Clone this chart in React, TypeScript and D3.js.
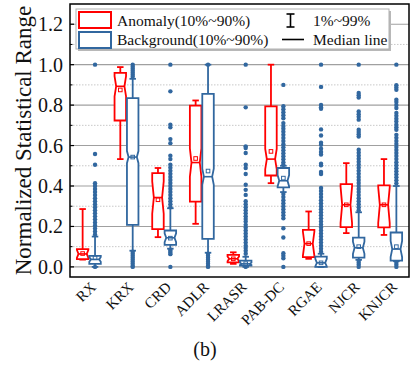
import React from "react";
import * as d3 from "d3";

const categories = ["RX", "KRX", "CRD", "ADLR", "LRASR", "PAB-DC", "RGAE", "NJCR", "KNJCR"];

// Anomaly (red) statistics: 1%, 10%, median, mean, 90%, 99%
const anomalyP01 = [0.036, 0.533, 0.147, 0.213, 0.015, 0.414, 0.04, 0.167, 0.158];
const anomalyP10 = [0.038, 0.724, 0.187, 0.323, 0.022, 0.452, 0.048, 0.197, 0.195];
const anomalyMedian = [0.064, 0.893, 0.343, 0.516, 0.04, 0.533, 0.115, 0.307, 0.307];
const anomalyMean = [0.066, 0.875, 0.332, 0.536, 0.04, 0.571, 0.115, 0.307, 0.307];
const anomalyP90 = [0.088, 0.959, 0.464, 0.797, 0.059, 0.794, 0.183, 0.409, 0.403];
const anomalyP99 = [0.286, 0.988, 0.489, 0.823, 0.072, 1.0, 0.274, 0.513, 0.533];
const anomalyNotch = [0.02, 0.05, 0.08, 0.07, 0.012, 0.05, 0.06, 0.09, 0.09];

// Background (blue) statistics
const backgroundP01 = [0.0, 0.08, 0.09, 0.07, 0.0, 0.37, 0.0, 0.035, 0.028];
const backgroundP10 = [0.015, 0.208, 0.109, 0.139, 0.006, 0.393, 0.0, 0.046, 0.031];
const backgroundMedian = [0.037, 0.543, 0.144, 0.446, 0.015, 0.426, 0.02, 0.095, 0.088];
const backgroundMean = [0.045, 0.543, 0.142, 0.474, 0.016, 0.439, 0.02, 0.1, 0.1];
const backgroundP90 = [0.054, 0.835, 0.18, 0.856, 0.031, 0.489, 0.051, 0.145, 0.17];
const backgroundP99 = [0.15, 0.93, 0.29, 1.0, 0.05, 0.5, 0.065, 0.27, 0.4];
const backgroundNotch = [0.012, 0.03, 0.022, 0.04, 0.006, 0.028, 0.02, 0.03, 0.04];

// Background outliers (values beyond 1%~99%)
const outRX = [1.0, 0.558, 0.505, 0.414, 0.4, 0.385, 0.37, 0.355, 0.34, 0.325, 0.31, 0.295, 0.28, 0.265, 0.25, 0.235, 0.22, 0.205, 0.19, 0.175, 0.16, 0.0];
const outKRX = [1.0, 0.99, 0.98, 0.97, 0.96, 0.95, 0.94, 0.075, 0.065, 0.055, 0.045, 0.035, 0.025, 0.015, 0.005, 0.0];
const outCRD = [1.0, 0.868, 0.703, 0.69, 0.632, 0.612, 0.55, 0.533, 0.505, 0.49, 0.475, 0.46, 0.445, 0.43, 0.415, 0.4, 0.385, 0.37, 0.355, 0.34, 0.325, 0.31, 0.295, 0.085, 0.078, 0.07, 0.063, 0.0];
const outADLR = [1.0, 0.065, 0.055, 0.045, 0.035, 0.025, 0.015, 0.005, 0.0];
const outLRASR = [1.0, 0.789, 0.596, 0.588, 0.563, 0.505, 0.489, 0.459, 0.406, 0.381, 0.356, 0.325, 0.31, 0.295, 0.28, 0.265, 0.25, 0.237, 0.224, 0.208, 0.195, 0.18, 0.165, 0.15, 0.135, 0.12, 0.105, 0.094, 0.08, 0.065, 0.0];
const outPABDC = [0.9, 0.794, 0.78, 0.765, 0.75, 0.735, 0.711, 0.697, 0.683, 0.668, 0.653, 0.637, 0.622, 0.607, 0.592, 0.577, 0.562, 0.547, 0.532, 0.517, 0.505, 0.36, 0.345, 0.33, 0.315, 0.3, 0.285, 0.27, 0.255, 0.24, 0.191, 0.145, 0.068, 0.055, 0.043, 0.0];
const outRGAE = [1.0, 0.89, 0.801, 0.79, 0.782, 0.68, 0.65, 0.614, 0.604, 0.584, 0.568, 0.556, 0.51, 0.502, 0.469, 0.459, 0.39, 0.375, 0.36, 0.345, 0.33, 0.315, 0.3, 0.285, 0.27, 0.255, 0.24, 0.225, 0.21, 0.195, 0.18, 0.165, 0.15, 0.135, 0.12, 0.105, 0.09, 0.075];
const outNJCR = [1.0, 0.86, 0.849, 0.838, 0.769, 0.755, 0.742, 0.728, 0.678, 0.667, 0.656, 0.645, 0.579, 0.565, 0.55, 0.535, 0.52, 0.505, 0.49, 0.475, 0.46, 0.445, 0.43, 0.415, 0.4, 0.385, 0.37, 0.355, 0.34, 0.325, 0.31, 0.295, 0.28, 0.03, 0.02, 0.01, 0.0];
const outKNJCR = [1.0, 0.898, 0.887, 0.876, 0.827, 0.815, 0.8, 0.786, 0.761, 0.747, 0.733, 0.719, 0.703, 0.69, 0.678, 0.653, 0.638, 0.623, 0.608, 0.593, 0.578, 0.563, 0.548, 0.533, 0.518, 0.503, 0.488, 0.473, 0.458, 0.443, 0.428, 0.413, 0.02, 0.01, 0.0];
const backgroundOutliers = [outRX, outKRX, outCRD, outADLR, outLRASR, outPABDC, outRGAE, outNJCR, outKNJCR];

const yMajorTicks = [0.0, 0.2, 0.4, 0.6, 0.8, 1.0, 1.2];
const yMinorTicks = [0.1, 0.3, 0.5, 0.7, 0.9, 1.1];

const RED = "#ff0000";
const BLUE = "#31679f";
const FONT = "'Liberation Serif', 'Times New Roman', serif";

const W = 410, H = 368;
const plotL = 70, plotR = 409, plotT = 4, plotB = 277;

export default function App() {
  const x = d3.scaleBand<string>().domain(categories).range([plotL, plotR]);
  const y = d3.scaleLinear().domain([-0.05, 1.3]).range([plotB, plotT]);
  const boxW = 11.5;
  const off = 6.2;
  const capW = 6.5;

  const drawBox = (
    key: string, cx: number, color: string,
    p01: number, p10: number, med: number, mean: number, p90: number, p99: number, notch: number,
    outliers: number[]
  ) => {
    const lo = Math.max(p10, med - Math.min(notch, 0.9 * (med - p10)));
    const hi = Math.min(p90, med + Math.min(notch, 0.9 * (p90 - med)));
    const hw = boxW / 2;
    const nw = hw * 0.72;
    const path = d3.path();
    path.moveTo(cx - hw, y(p10));
    path.lineTo(cx - hw, y(lo));
    path.lineTo(cx - nw, y(med));
    path.lineTo(cx - hw, y(hi));
    path.lineTo(cx - hw, y(p90));
    path.lineTo(cx + hw, y(p90));
    path.lineTo(cx + hw, y(hi));
    path.lineTo(cx + nw, y(med));
    path.lineTo(cx + hw, y(lo));
    path.lineTo(cx + hw, y(p10));
    path.closePath();
    return (
      <g key={key}>
        <line x1={cx} x2={cx} y1={y(p90)} y2={y(p99)} stroke={color} strokeWidth={1.8} />
        <line x1={cx} x2={cx} y1={y(p10)} y2={y(p01)} stroke={color} strokeWidth={1.8} />
        <line x1={cx - capW / 2} x2={cx + capW / 2} y1={y(p99)} y2={y(p99)} stroke={color} strokeWidth={1.8} />
        <line x1={cx - capW / 2} x2={cx + capW / 2} y1={y(p01)} y2={y(p01)} stroke={color} strokeWidth={1.8} />
        {outliers.map((v, i) => (
          <circle key={i} cx={cx} cy={y(v)} r={2.2} fill={color} />
        ))}
        <path d={path.toString()} fill="white" stroke={color} strokeWidth={1.8} />
        <line x1={cx - nw} x2={cx + nw} y1={y(med)} y2={y(med)} stroke={color} strokeWidth={1.6} />
        <rect x={cx - 1.8} y={y(mean) - 1.8} width={3.6} height={3.6} fill="none" stroke={color} strokeWidth={1} />
      </g>
    );
  };

  return (
    <svg width={W} height={H} style={{ position: "absolute", left: 0, top: 0, background: "white" }} fontFamily={FONT}>
      {/* grid */}
      {yMinorTicks.map((t) => (
        <line key={"mg" + t} x1={plotL} x2={plotR} y1={y(t)} y2={y(t)} stroke="#c8c8c8" strokeWidth={1} strokeDasharray="1.5,1.5" />
      ))}
      {yMajorTicks.map((t) => (
        <line key={"g" + t} x1={plotL} x2={plotR} y1={y(t)} y2={y(t)} stroke="#a0a0a0" strokeWidth={1.1} />
      ))}

      {/* boxes */}
      {categories.map((c, i) => {
        const cx = (x(c) as number) + x.bandwidth() / 2;
        return (
          <g key={c}>
            {drawBox("a" + c, cx - off, RED, anomalyP01[i], anomalyP10[i], anomalyMedian[i], anomalyMean[i], anomalyP90[i], anomalyP99[i], anomalyNotch[i], [])}
            {drawBox("b" + c, cx + off, BLUE, backgroundP01[i], backgroundP10[i], backgroundMedian[i], backgroundMean[i], backgroundP90[i], backgroundP99[i], backgroundNotch[i], backgroundOutliers[i])}
          </g>
        );
      })}

      {/* ticks */}
      {yMajorTicks.map((t) => (
        <line key={"t" + t} x1={plotL} x2={plotL + 4} y1={y(t)} y2={y(t)} stroke="black" strokeWidth={1.2} />
      ))}
      {yMinorTicks.map((t) => (
        <line key={"mt" + t} x1={plotL} x2={plotL + 2.5} y1={y(t)} y2={y(t)} stroke="black" strokeWidth={1} />
      ))}
      {yMajorTicks.map((t) => (
        <text key={"tl" + t} x={plotL - 7} y={y(t)} dy="0.35em" textAnchor="end" fontSize={20} fill="#111">
          {d3.format(".1f")(t)}
        </text>
      ))}

      {/* frame */}
      <rect x={plotL} y={plotT} width={plotR - plotL} height={plotB - plotT} fill="none" stroke="black" strokeWidth={1.5} />

      {/* x labels */}
      {categories.map((c) => {
        const cx = (x(c) as number) + x.bandwidth() / 2 + 8;
        return (
          <text key={"xl" + c} x={cx} y={288} textAnchor="end" fontSize={15} transform={`rotate(-45 ${cx} 288)`} fill="#111">
            {c}
          </text>
        );
      })}

      {/* y title */}
      <text x={0} y={0} transform={`translate(31 ${(plotT + plotB) / 2}) rotate(-90)`} textAnchor="middle" fontSize={23} fill="#111">
        Normalized Statistical Range
      </text>

      {/* legend */}
      <rect x={78} y={11} width={313} height={40} fill="#b8b8b8" />
      <rect x={76} y={9} width={313} height={40} fill="white" stroke="#b0b0b0" strokeWidth={1} />
      <rect x={79} y={12} width={32} height={16} fill="white" stroke={RED} strokeWidth={2} />
      <rect x={79} y={32} width={32} height={16} fill="white" stroke={BLUE} strokeWidth={2} />
      <text x={117} y={25.5} fontSize={15.5} fill="#111">Anomaly(10%~90%)</text>
      <text x={117} y={45} fontSize={15.5} fill="#111">Background(10%~90%)</text>
      <line x1={290.5} x2={290.5} y1={14} y2={27} stroke="black" strokeWidth={1.6} />
      <line x1={286.5} x2={294.5} y1={14} y2={14} stroke="black" strokeWidth={1.6} />
      <line x1={286.5} x2={294.5} y1={27} y2={27} stroke="black" strokeWidth={1.6} />
      <text x={313} y={25.5} fontSize={15.5} fill="#111">1%~99%</text>
      <line x1={282} x2={304} y1={39.5} y2={39.5} stroke="black" strokeWidth={1.6} />
      <text x={313} y={45} fontSize={15.5} fill="#111">Median line</text>

      {/* caption */}
      <text x={205} y={356} textAnchor="middle" fontSize={20} fill="#111">(b)</text>
    </svg>
  );
}
